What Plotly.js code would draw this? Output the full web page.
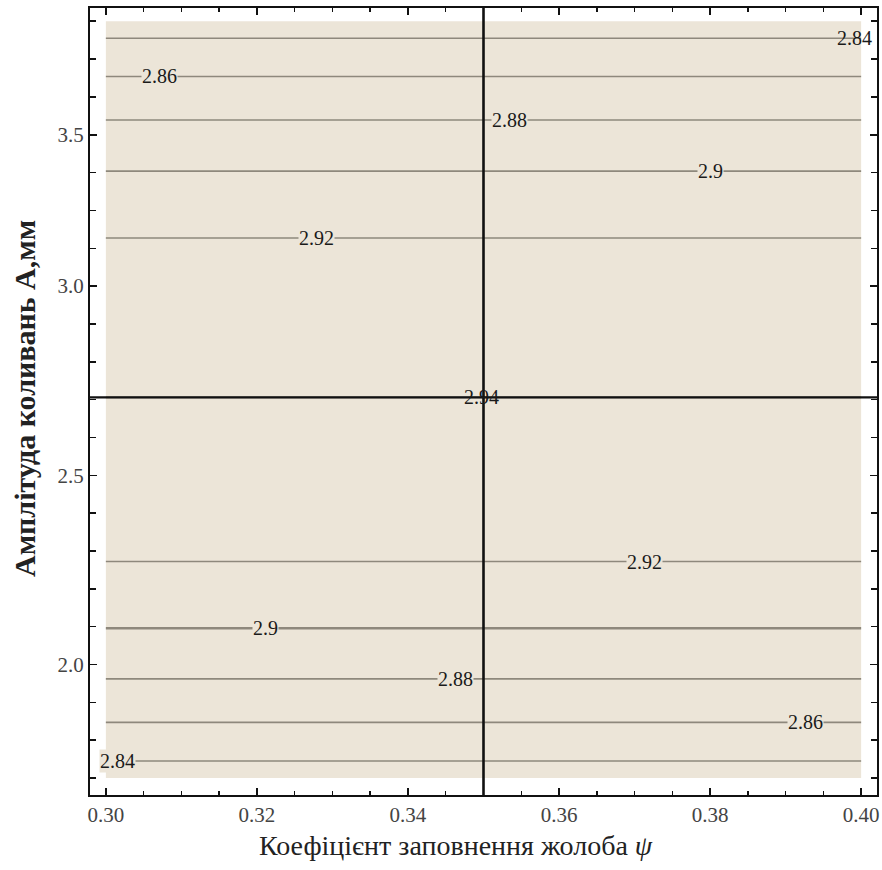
<!DOCTYPE html>
<html>
<head>
<meta charset="utf-8">
<script src="https://cdn.plot.ly/plotly-3.0.1.min.js"></script>
<style>html,body{margin:0;padding:0;background:#fff;}#chart{width:882px;height:870px;}</style>
</head>
<body>
<div id="chart"></div>
<script>
// Data region (plot range of the contour plot)
const psiRange = [0.30, 0.40];
const ampRange = [1.70, 3.70];

// Contour lines (horizontal): level values and their amplitude positions
const contourLevels = [2.84, 2.86, 2.88, 2.90, 2.92, 2.94, 2.92, 2.90, 2.88, 2.86, 2.84];
const contourAmp    = [3.655, 3.554, 3.439, 3.304, 3.127, 2.706, 2.272, 2.096, 1.962, 1.847, 1.745];
const labelPsi      = [0.3991, 0.3071, 0.3535, 0.3800, 0.3279, 0.3497, 0.3713, 0.3212, 0.3463, 0.3926, 0.3015];

// Optimum marker lines
const optimumPsi = 0.35;
const optimumAmp = 2.706;

// Axis ticks
const xTickVals = [0.30, 0.32, 0.34, 0.36, 0.38, 0.40];
const xTickText = ["0.30", "0.32", "0.34", "0.36", "0.38", "0.40"];
const yTickVals = [2.0, 2.5, 3.0, 3.4];
const yTickText = ["2.0", "2.5", "3.0", "3.5"];

// Axis titles
const xTitle = 'Коефіцієнт заповнення жолоба <i>ψ</i>';
const yTitle = '<b>Амплітуда коливань А,мм</b>';

const xAxisRange = [0.2979, 0.4021];
const yAxisRange = [1.655, 3.735];

const beige = '#ece5d8';
const serif = 'Times New Roman, Liberation Serif, serif';

const traces = [];
// shaded region
traces.push({
  type: 'scatter', mode: 'lines', hoverinfo: 'skip', showlegend: false,
  x: [psiRange[0], psiRange[1], psiRange[1], psiRange[0], psiRange[0]],
  y: [ampRange[0], ampRange[0], ampRange[1], ampRange[1], ampRange[0]],
  fill: 'toself', fillcolor: beige, line: {width: 0}
});
// contour lines
contourLevels.forEach((lv, i) => {
  traces.push({
    type: 'scatter', mode: 'lines', hoverinfo: 'skip', showlegend: false,
    x: psiRange, y: [contourAmp[i], contourAmp[i]],
    line: {color: '#8e887c', width: (i === 7 ? 2.5 : 1.6)}
  });
});
// optimum lines
traces.push({
  type: 'scatter', mode: 'lines', showlegend: false, hoverinfo: 'skip',
  x: xAxisRange, y: [optimumAmp, optimumAmp], line: {color: '#111', width: 2.2}, cliponaxis: true
});
traces.push({
  type: 'scatter', mode: 'lines', showlegend: false, hoverinfo: 'skip',
  x: [optimumPsi, optimumPsi], y: yAxisRange, line: {color: '#111', width: 2.6}, cliponaxis: true
});

const annotations = contourLevels.map((lv, i) => ({
  x: labelPsi[i], y: contourAmp[i], xref: 'x', yref: 'y',
  text: String(lv), showarrow: false,
  font: {family: serif, size: 20, color: '#1a1a1a'},
  bgcolor: (i === 5 || i === 0 ? 'rgba(0,0,0,0)' : beige), borderpad: 0,
  xanchor: 'center', yanchor: 'middle'
}));
annotations.push({
  xref: 'paper', yref: 'paper', x: 0.465, y: -0.064, xanchor: 'center', yanchor: 'middle',
  text: xTitle, showarrow: false, font: {family: serif, size: 28, color: '#222'}
});
annotations.push({
  xref: 'paper', yref: 'paper', x: -0.083, y: 0.504, xanchor: 'center', yanchor: 'middle',
  textangle: -90, text: yTitle, showarrow: false, font: {family: serif, size: 30, color: '#222'}
});

const layout = {
  width: 882, height: 870,
  margin: {l: 90, r: 5, t: 8, b: 75},
  paper_bgcolor: '#fff', plot_bgcolor: '#fff',
  showlegend: false,
  font: {family: serif, color: '#333'},
  xaxis: {
    range: xAxisRange, tickmode: 'array', tickvals: xTickVals, ticktext: xTickText,
    ticks: 'inside', ticklen: 7, tickwidth: 1.5, tickcolor: '#111',
    showline: true, linecolor: '#111', linewidth: 2, mirror: 'allticks',
    showgrid: false, zeroline: false,
    tickfont: {family: serif, size: 21, color: '#444'},
    minor: {dtick: 0.005, tick0: 0, ticks: 'inside', ticklen: 4, tickwidth: 1.5, tickcolor: '#111', showgrid: false}
  },
  yaxis: {
    range: yAxisRange, tickmode: 'array', tickvals: yTickVals, ticktext: yTickText,
    ticks: 'inside', ticklen: 7, tickwidth: 1.5, tickcolor: '#111',
    showline: true, linecolor: '#111', linewidth: 2, mirror: 'allticks',
    showgrid: false, zeroline: false,
    tickfont: {family: serif, size: 21, color: '#444'},
    minor: {dtick: 0.1, tick0: 0, ticks: 'inside', ticklen: 6, tickwidth: 1.5, tickcolor: '#111', showgrid: false}
  },
  annotations: annotations
};

Plotly.newPlot('chart', traces, layout, {staticPlot: true, displayModeBar: false});
</script>
</body>
</html>
